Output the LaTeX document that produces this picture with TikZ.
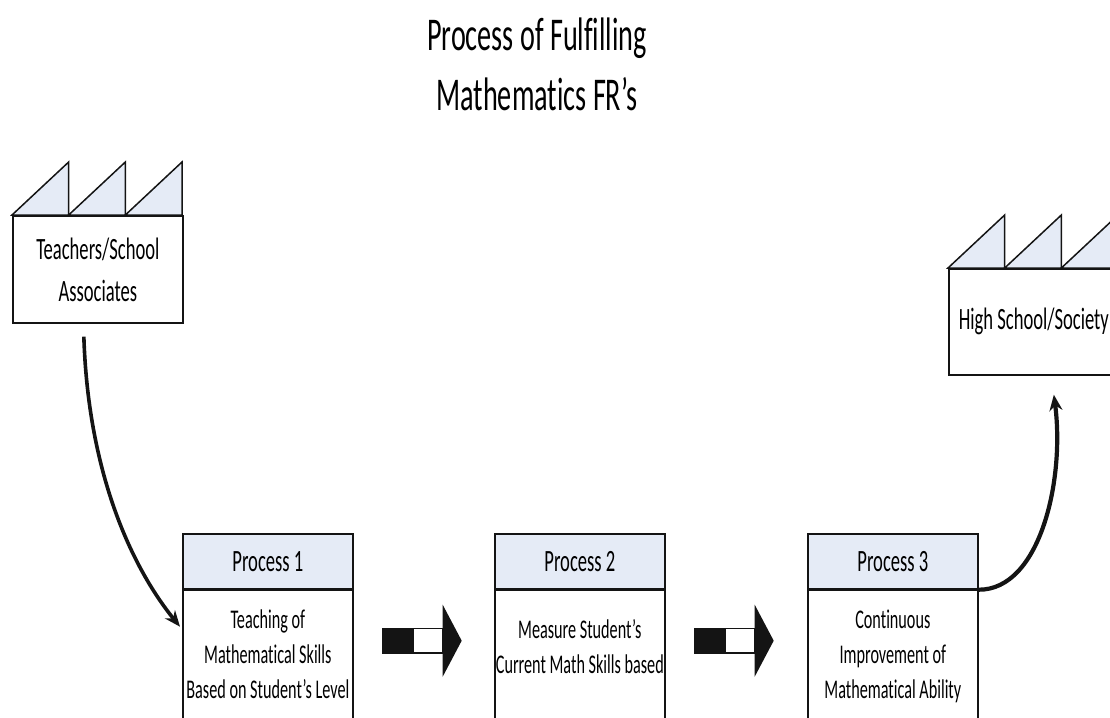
\documentclass[tikz,border=0pt]{standalone}
\usepackage{fontspec}
\setmainfont{Carlito}[FakeStretch=0.6, Ligatures=NoCommon]
\usetikzlibrary{arrows.meta}
\definecolor{hdrfill}{RGB}{229,235,246}
\definecolor{lnc}{RGB}{20,20,20}
\tikzset{
  blkarrow/.pic={
    \fill[lnc] (0,-13) rectangle (32,13);
    \draw[lnc, line width=1.5pt, fill=white] (32,-12.25) rectangle (61,12.25);
    \fill[lnc] (61,-36) -- (80,0) -- (61,36) -- cycle;
  }
}
\begin{document}
\begin{tikzpicture}[x=1pt,y=-1pt,
  box/.style={draw=lnc, line width=1.7pt, minimum width=170pt, inner sep=0pt, align=center},
  tooth/.style={draw=lnc, line width=1.5pt, fill=hdrfill, line join=miter},
  facttext/.style={font=\fontsize{31}{42}\selectfont},
  hdrtext/.style={font=\fontsize{31}{38}\selectfont},
  bodytext/.style={font=\fontsize{27}{35}\selectfont, align=center, inner sep=0pt, anchor=north},
  flow/.style={line width=3.6pt, lnc, -{Stealth[length=16pt,width=13pt]}},
]
\useasboundingbox (0,0) rectangle (1110,717);
\clip (0,0) rectangle (1110,717);

% title
\node[font=\fontsize{47}{60}\selectfont, align=center, anchor=north, inner sep=0pt] (title) at (537,18) {Process of Fulfilling\\Mathematics FR’s};

% source factory
\node[box, facttext, minimum height=107pt, anchor=north west] (src) at (12,215) {Teachers/School\\Associates};
\foreach \i in {0,1,2}
  \draw[tooth] ([xshift=56.67*\i pt]src.north west) -- ++(56.67,-53) -- ++(0,53) -- cycle;

% destination factory
\node[box, facttext, minimum height=106pt, anchor=north west] (dst) at (948,268) {High School/Society};
\foreach \i in {0,1,2}
  \draw[tooth] ([xshift=56.67*\i pt]dst.north west) -- ++(56.67,-53) -- ++(0,53) -- cycle;

% processes
\node[box, fill=hdrfill, hdrtext, minimum height=55pt, anchor=north west] (h1) at (182,533) {Process 1};
\node[box, minimum height=150pt, anchor=north] (b1) at (h1.south) {};
\node[bodytext] (t1) at ([yshift=-20pt]h1.south) {Teaching of\\Mathematical Skills\\Based on Student’s Level};

\node[box, fill=hdrfill, hdrtext, minimum height=55pt, anchor=north west] (h2) at (494,533) {Process 2};
\node[box, minimum height=150pt, anchor=north] (b2) at (h2.south) {};
\node[bodytext] (t2) at ([yshift=-30pt]h2.south) {Measure Student’s\\Current Math Skills based};

\node[box, fill=hdrfill, hdrtext, minimum height=55pt, anchor=north west] (h3) at (807,533) {Process 3};
\node[box, minimum height=150pt, anchor=north] (b3) at (h3.south) {};
\node[bodytext] (t3) at ([yshift=-20pt]h3.south) {Continuous\\Improvement of\\Mathematical Ability};

% block arrows
\pic at ([xshift=28pt,yshift=-51pt]h1.south east) {blkarrow};
\pic at ([xshift=28pt,yshift=-51pt]h2.south east) {blkarrow};

% curved connectors
\draw[flow] ([xshift=-14pt,yshift=-13pt]src.south) .. controls (88,470) and (130,565) .. ([xshift=-2pt,yshift=-37pt]h1.south west);
\draw[flow, line width=4.2pt] (h3.south east) .. controls (1040,590) and (1065,480) .. ([xshift=20pt,yshift=-19pt]dst.south);
\end{tikzpicture}
\end{document}
